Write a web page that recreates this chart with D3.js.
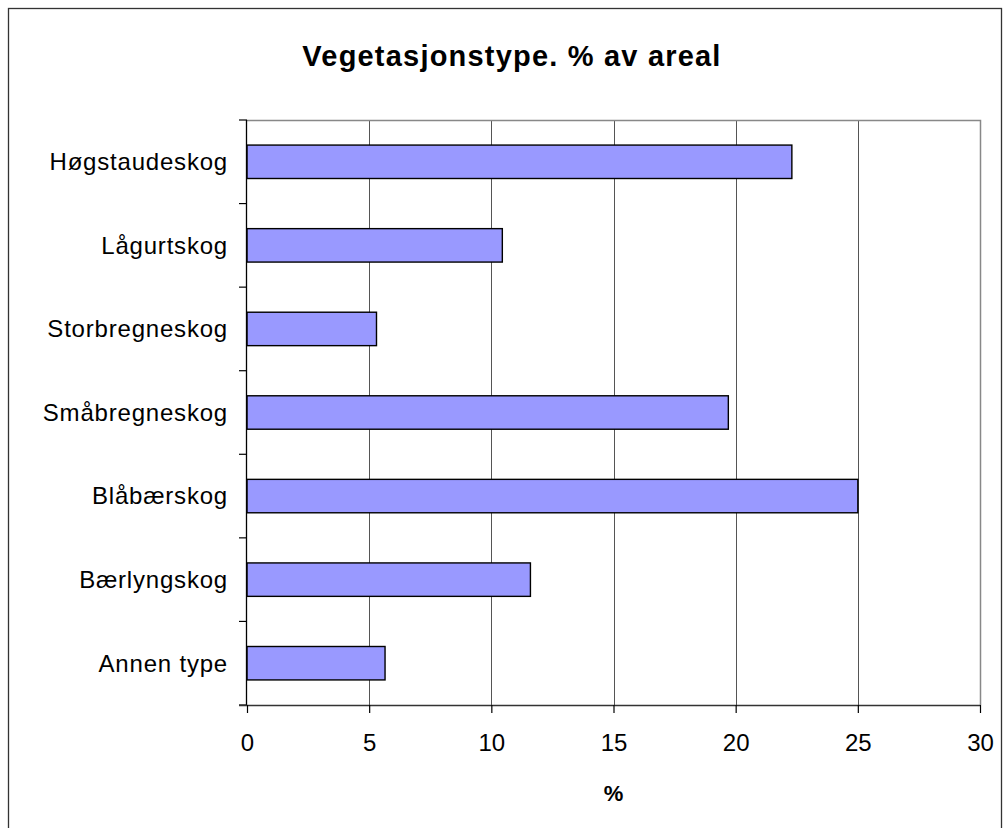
<!DOCTYPE html>
<html>
<head>
<meta charset="utf-8">
<script src="https://cdn.jsdelivr.net/npm/d3@7"></script>
<style>
    body { margin: 0; background: #fff; }
    svg { display: block; font-family: "Liberation Sans", Arial, sans-serif; }
</style>
</head>
<body>
<div id="chart"></div>
<script>
// Data
var categories = ['Høgstaudeskog', 'Lågurtskog', 'Storbregneskog', 'Småbregneskog',
                  'Blåbærskog', 'Bærlyngskog', 'Annen type'];
var values = [22.3, 10.45, 5.3, 19.7, 25.0, 11.6, 5.65];
var xTicks = [0, 5, 10, 15, 20, 25, 30];

var width = 1003;
var height = 828;
var margin = {top: 120, right: 23, bottom: 123, left: 247};

var svg = d3.select('#chart')
    .append('svg')
    .attr('width', width)
    .attr('height', height);

// Outer chart border
svg.append('rect')
    .attr('x', 8.5)
    .attr('y', 8.5)
    .attr('width', width - 10)
    .attr('height', height)
    .attr('fill', 'none')
    .attr('stroke', '#333')
    .attr('stroke-width', 1.3);

var x = d3.scaleLinear()
    .domain([0, 30])
    .range([margin.left, width - margin.right]);

var y = d3.scaleBand()
    .domain(categories)
    .range([margin.top, height - margin.bottom])
    .paddingInner(0.6)
    .paddingOuter(0.3);

// Band boundaries for the category tick marks
var step = (height - margin.bottom - margin.top) / categories.length;

// Vertical gridlines
svg.selectAll('.grid')
    .data(xTicks.filter(function(d) { return d > 0 && d < 30; }))
    .enter().append('line')
    .attr('class', 'grid')
    .attr('x1', function(d) { return Math.round(x(d)) + 0.5; })
    .attr('x2', function(d) { return Math.round(x(d)) + 0.5; })
    .attr('y1', margin.top)
    .attr('y2', height - margin.bottom)
    .style('stroke', '#555')
    .style('stroke-width', '1px');

// Plot area border (top and right, grey)
svg.append('path')
    .attr('d', 'M' + x(0) + ',' + (margin.top + 0.5) +
               'H' + (x(30) + 0.5) + 'V' + (height - margin.bottom))
    .attr('fill', 'none')
    .style('stroke', '#888')
    .style('stroke-width', '1.5px');

// Bars
svg.selectAll('.bar')
    .data(values)
    .enter().append('rect')
    .attr('class', 'bar')
    .attr('x', x(0))
    .attr('y', function(d, i) { return y(categories[i]); })
    .attr('width', function(d) { return x(d) - x(0); })
    .attr('height', y.bandwidth())
    .style('fill', '#9999ff')
    .style('stroke', '#000')
    .style('stroke-width', '1.4px');

// Y axis with tick marks between categories
var yAxisG = svg.append('g');
yAxisG.append('line')
    .attr('x1', x(0) - 0.5).attr('x2', x(0) - 0.5)
    .attr('y1', margin.top).attr('y2', height - margin.bottom)
    .style('stroke', '#000').style('stroke-width', '1.3px');
yAxisG.selectAll('.ytick')
    .data(d3.range(categories.length + 1))
    .enter().append('line')
    .attr('class', 'ytick')
    .attr('x1', x(0) - 8).attr('x2', x(0))
    .attr('y1', function(d) { return margin.top + d * step; })
    .attr('y2', function(d) { return margin.top + d * step; })
    .style('stroke', '#000').style('stroke-width', '1.2px');
yAxisG.selectAll('.ylabel')
    .data(categories)
    .enter().append('text')
    .attr('class', 'ylabel')
    .attr('x', x(0) - 19)
    .attr('y', function(d) { return y(d) + y.bandwidth() / 2; })
    .attr('dy', '0.35em')
    .attr('text-anchor', 'end')
    .style('font-size', '24px')
    .style('letter-spacing', '0.8px')
    .text(function(d) { return d; });

// X axis
var xAxis = d3.axisBottom(x)
    .tickValues(xTicks)
    .tickSize(8)
    .tickPadding(21)
    .tickFormat(d3.format('d'));
var xAxisG = svg.append('g')
    .attr('transform', 'translate(0,' + (height - margin.bottom) + ')')
    .call(xAxis);
xAxisG.select('.domain')
    .attr('d', 'M' + (x(0) - 8) + ',0.5H' + x(30))
    .style('stroke', '#333').style('stroke-width', '1.3px');
xAxisG.selectAll('.tick line').style('stroke', '#000').style('stroke-width', '1.2px');
xAxisG.selectAll('.tick text')
    .style('font-size', '24px')
    .style('font-family', '"Liberation Sans", Arial, sans-serif')
    .attr('fill', '#000');

// Axis title
svg.append('text')
    .attr('x', (x(0) + x(30)) / 2)
    .attr('y', 801)
    .attr('text-anchor', 'middle')
    .style('font-size', '22px')
    .style('font-weight', 'bold')
    .text('%');

// Chart title
svg.append('text')
    .attr('x', 512)
    .attr('y', 66)
    .attr('text-anchor', 'middle')
    .style('font-size', '29px')
    .style('font-weight', 'bold')
    .style('letter-spacing', '1.2px')
    .text('Vegetasjonstype. % av areal');
</script>
</body>
</html>
